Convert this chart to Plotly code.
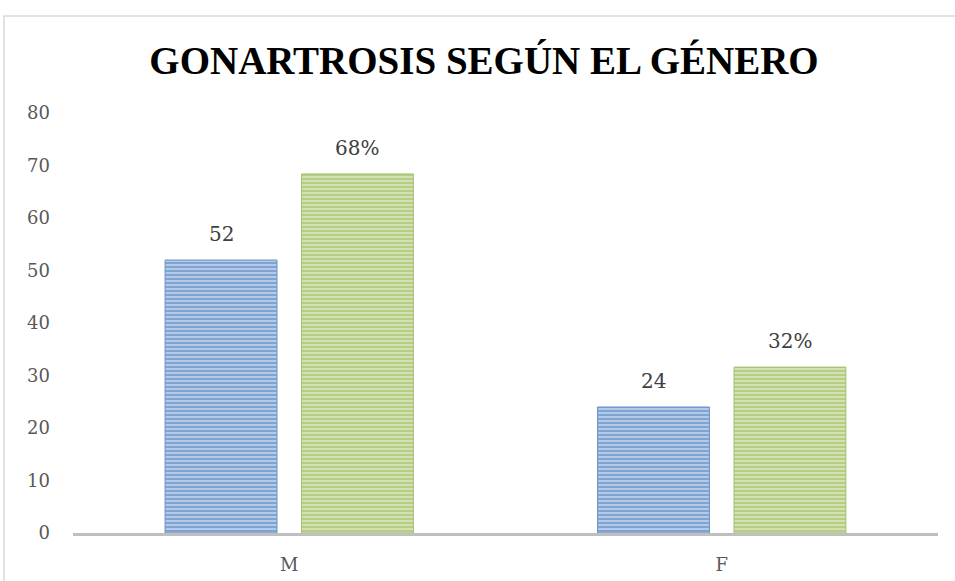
import plotly.graph_objects as go

categories = ["M", "F"]
counts = [52, 24]
percents = [68.4, 31.6]
percent_labels = ["68%", "32%"]
y_ticks = [0, 10, 20, 30, 40, 50, 60, 70, 80]

W, H = 955, 581
L, R, T, B = 73, 17, 113, 48
BARGAP, GROUPGAP = 0.369, 0.18

fig = go.Figure()
fig.add_trace(go.Bar(
    x=categories, y=counts, name="Casos",
    marker=dict(color="#4f81bd",
                pattern=dict(shape="-", size=4, solidity=0.6,
                             fgcolor="#4175b8", bgcolor="#bfd2ec", fillmode="overlay"),
                line=dict(color="#6690c8", width=1)),
))
fig.add_trace(go.Bar(
    x=categories, y=percents, name="Porcentaje",
    marker=dict(color="#9bbb59",
                pattern=dict(shape="-", size=4, solidity=0.6,
                             fgcolor="#93b64f", bgcolor="#d8e5bd", fillmode="overlay"),
                line=dict(color="#a6c26d", width=1)),
))

pw = W - L - R
ph = H - T - B
slot = pw / len(categories) * (1 - BARGAP) / 2
lab_font = dict(family="DejaVu Serif", size=20, color="#404040")
for i, c in enumerate(categories):
    fig.add_annotation(x=c, y=counts[i], text=str(counts[i]), showarrow=False,
                       xshift=-slot / 2, yshift=12, yanchor="bottom", font=lab_font)
    fig.add_annotation(x=c, y=percents[i], text=percent_labels[i], showarrow=False,
                       xshift=slot / 2, yshift=12, yanchor="bottom", font=lab_font)

x0 = (4 - L) / pw
x1 = (W + 60 - L) / pw
y1 = (H - 16 - B) / ph
y0 = (-60 - B) / ph
fig.add_shape(type="rect", xref="paper", yref="paper",
              x0=x0, x1=x1, y0=y0, y1=y1,
              line=dict(color="#d9d9d9", width=1.5), fillcolor="rgba(0,0,0,0)", layer="below")

fig.update_layout(
    width=W, height=H,
    margin=dict(l=L, r=R, t=T, b=B, autoexpand=False),
    paper_bgcolor="white", plot_bgcolor="white",
    showlegend=False,
    barmode="group", bargap=BARGAP, bargroupgap=GROUPGAP,
    title=dict(text="<b>GONARTROSIS SEGÚN EL GÉNERO</b>",
               x=484 / W, xanchor="center", y=1 - 60 / H, yanchor="middle",
               xref="container", yref="container",
               font=dict(family="Liberation Serif", size=39, color="#000000")),
    font=dict(family="DejaVu Serif", size=18, color="#595959"),
)
fig.update_xaxes(showline=True, linecolor="#bfbfbf", linewidth=3, automargin=False,
                 showgrid=False, ticks="", ticklabelstandoff=13,
                 tickfont=dict(family="DejaVu Serif", size=18, color="#595959"))
fig.update_yaxes(range=[0, 80], tickvals=y_ticks, showgrid=False, zeroline=False,
                 automargin=False, showline=False, ticks="", ticklabelstandoff=22,
                 tickfont=dict(family="DejaVu Serif", size=18, color="#595959"))

fig.write_html("out.html", config={"displayModeBar": False},
               post_script="document.body.style.margin='0';")
